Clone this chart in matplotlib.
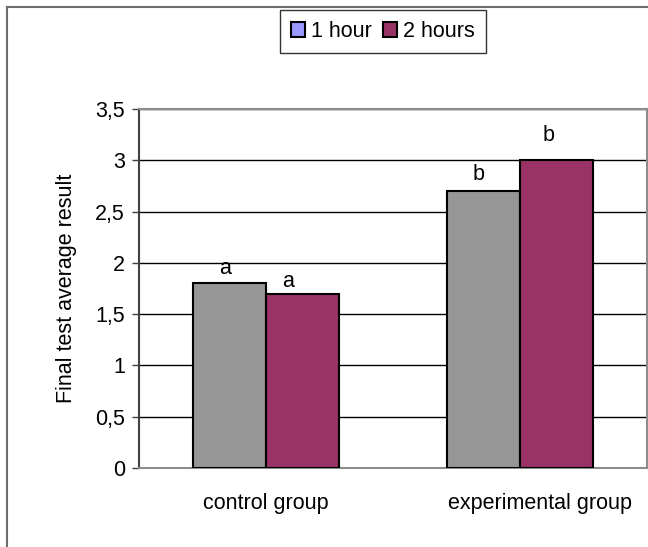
import matplotlib.pyplot as plt
from matplotlib.lines import Line2D
from matplotlib.patches import Patch
from matplotlib.transforms import ScaledTranslation
import numpy as np

plt.rcParams['font.family'] = ['Liberation Sans', 'DejaVu Sans']

groups = ["control group", "experimental group"]
series = ["1 hour", "2 hours"]
one_hour = [1.8, 2.7]
two_hours = [1.7, 3.0]
letters_1h = ["a", "b"]
letters_2h = ["a", "b"]
yticks = [0, 0.5, 1, 1.5, 2, 2.5, 3, 3.5]
ytick_labels = ["0", "0,5", "1", "1,5", "2", "2,5", "3", "3,5"]

W, H = 648, 547
FS = 15.5
fig = plt.figure(figsize=(W / 100, H / 100), dpi=100)

# outer chart frame (only top and left visible in the reference)
fig.add_artist(Line2D([7 / W, 7 / W], [0, 1 - 7 / H], color="#6e6e6e", lw=1.5))
fig.add_artist(Line2D([7 / W, 1], [1 - 7 / H, 1 - 7 / H], color="#6e6e6e", lw=1.5))

ax = fig.add_axes([139 / W, 79 / H, 508 / W, 359 / H])

x = np.arange(len(groups))
w = 0.287
gray = "#969696"
maroon = "#993366"
b1 = ax.bar(x - w / 2, one_hour, w, color=gray, edgecolor="black", lw=1.5, zorder=3)
b2 = ax.bar(x + w / 2, two_hours, w, color=maroon, edgecolor="black", lw=1.5, zorder=3)

# letter offsets (points) as seen in the reference
offs_1h = [(-3.5, 6.5), (-3.5, 8)]
offs_2h = [(-10, 5), (-6, 14)]
for bars, labs, offs in [(b1, letters_1h, offs_1h), (b2, letters_2h, offs_2h)]:
    for rect, lab, off in zip(bars, labs, offs):
        ax.annotate(lab, (rect.get_x() + rect.get_width() / 2, rect.get_height()),
                    xytext=off, textcoords="offset points", ha="center",
                    va="baseline", fontsize=FS)

ax.set_xlim(-0.5, 1.5)
ax.set_ylim(0, 3.5)
ax.set_yticks(yticks)
ax.set_yticklabels(ytick_labels, fontsize=FS)
ax.set_xticks(x)
ax.set_xticklabels(groups, fontsize=FS)
ax.tick_params(axis="x", length=0, pad=18)
ax.tick_params(axis="y", length=5, width=1, color="#404040", pad=5)
# the second category label sits a bit right of centre in the reference
xl = ax.get_xticklabels()[1]
xl.set_transform(xl.get_transform() + ScaledTranslation(20 / 100, 0, fig.dpi_scale_trans))

ax.yaxis.grid(True, color="black", lw=1, zorder=0)
ax.set_axisbelow(True)
for s in ["top", "right", "bottom"]:
    ax.spines[s].set_color("#8c8c8c")
    ax.spines[s].set_linewidth(1.5)
ax.spines["left"].set_color("#404040")
ax.spines["left"].set_linewidth(1.5)
ax.set_ylabel("Final test average result", fontsize=FS)
ax.yaxis.set_label_coords(-0.122, 0.5)

handles = [Patch(facecolor="#9999ff", edgecolor="black", lw=1.5, label=series[0]),
           Patch(facecolor=maroon, edgecolor="black", lw=1.5, label=series[1])]
leg = fig.legend(handles=handles, loc="center", ncol=2, fontsize=FS,
                 bbox_to_anchor=(383 / W, 1 - 31.5 / H), frameon=True, fancybox=False,
                 handlelength=0.65, handleheight=0.65, handletextpad=0.3,
                 columnspacing=0.5, borderpad=0.5, borderaxespad=0)
leg.get_frame().set_edgecolor("black")
leg.get_frame().set_linewidth(1)

fig.savefig("out.png", dpi=100)
